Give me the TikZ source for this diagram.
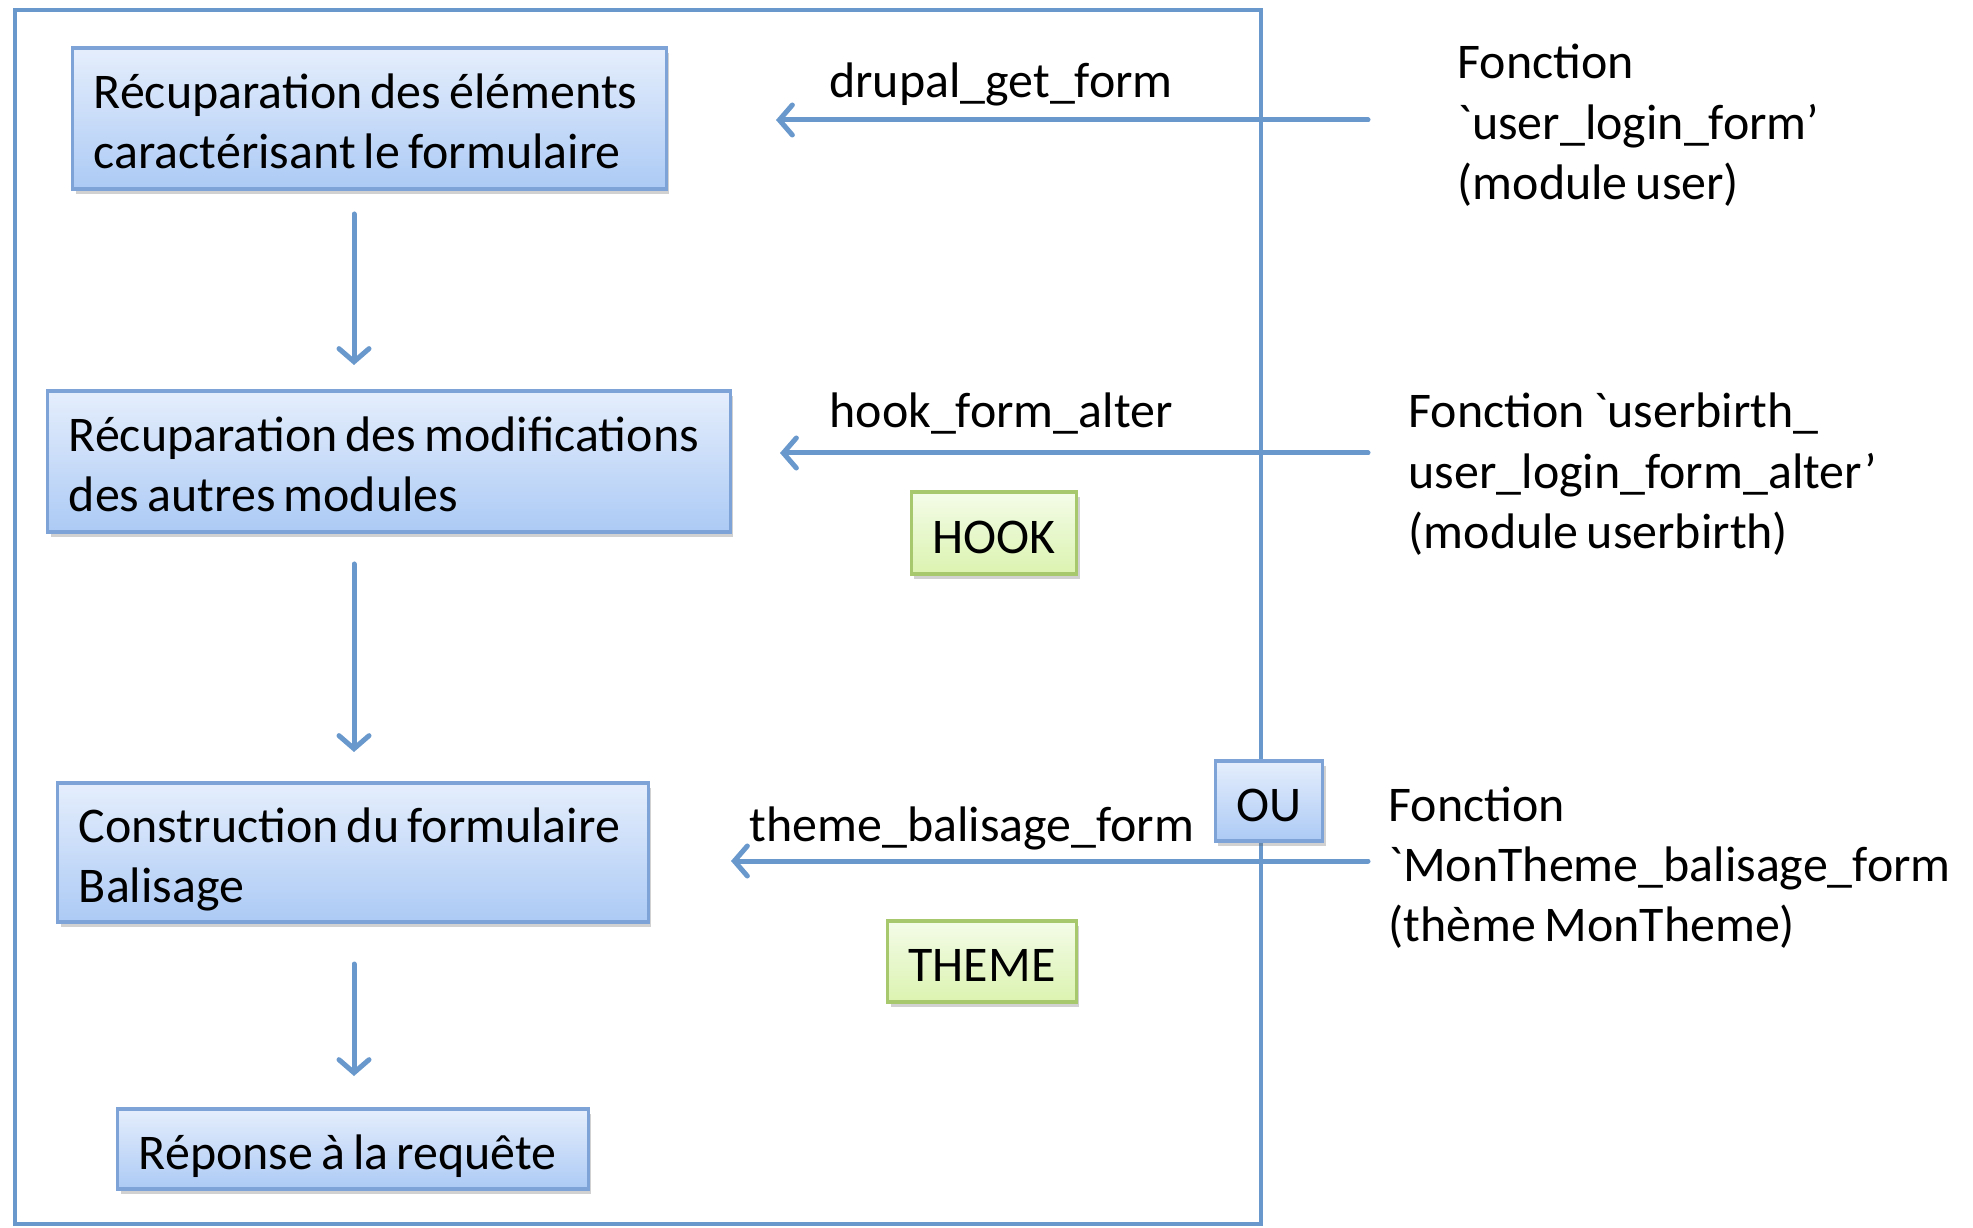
\documentclass[tikz,border=0pt]{standalone}
\usepackage{fontspec}
\newfontfamily\carl{Carlito}[WordSpace=0.72]
\usetikzlibrary{arrows.meta,shadows}
\definecolor{lineblue}{RGB}{104,152,204}
\definecolor{bluetop}{RGB}{229,238,252}
\definecolor{bluebot}{RGB}{172,202,245}
\definecolor{blueedge}{RGB}{125,163,215}
\definecolor{greentop}{RGB}{244,252,232}
\definecolor{greenbot}{RGB}{219,243,176}
\definecolor{greenedge}{RGB}{168,200,110}
\tikzset{
  txt/.style={font=\carl\fontsize{14.2}{17.07}\selectfont, inner sep=0pt},
  boxbase/.style={txt, draw, line width=0.9pt, inner xsep=0.21cm,
    drop shadow={shadow xshift=0.03cm, shadow yshift=-0.05cm, opacity=0.3, fill=black!60}},
  bluebox/.style={boxbase, draw=blueedge, top color=bluetop, bottom color=bluebot},
  greenbox/.style={boxbase, draw=greenedge, top color=greentop, bottom color=greenbot},
  shortbox/.style={text height=0.40cm, text depth=0pt},
  longbox/.style={align=flush left, text height=0.45cm, text depth=0.65cm},
  conn/.style={draw=lineblue, line width=0.05cm, line cap=round,
    -{Straight Barb[length=0.13cm,width=0.3cm,line cap=round]}},
  framestyle/.style={draw=lineblue, line width=0.04cm},
  rtext/.style={txt, text width=7cm, align=flush left, anchor=base west}
}
\begin{document}
\begin{tikzpicture}[x=0.01cm,y=-0.01cm]
\useasboundingbox (0,0) rectangle (1973,1228);
% frame
\draw[framestyle] (15,10) rectangle (1261,1224);
% free ends
\coordinate (h1s) at (1368,120); \coordinate (h1e) at (776,120);
\coordinate (h2s) at (1368,453); \coordinate (h2e) at (780,453);
\coordinate (h3s) at (1368,861); \coordinate (h3e) at (731,861);
\coordinate (v1s) at (354,214); \coordinate (v1e) at (354,365);
\coordinate (v2s) at (354,564); \coordinate (v2e) at (354,752);
\coordinate (v3s) at (354,964); \coordinate (v3e) at (354,1076);
% horizontal arrows
\draw[conn] (h1s) -- (h1e);
\draw[conn] (h2s) -- (h2e);
\draw[conn] (h3s) -- (h3e);
\draw[framestyle] (1261,10) -- (1261,1224);
% vertical arrows
\draw[conn] (v1s) -- (v1e);
\draw[conn] (v2s) -- (v2e);
\draw[conn] (v3s) -- (v3e);
% boxes
\node[bluebox, longbox, minimum width=5.93cm, minimum height=1.41cm, text width=5.51cm] (b1) at (369.5,118.5)
  {Récuparation des éléments\\caractérisant le formulaire};
\node[bluebox, longbox, minimum width=6.82cm, minimum height=1.41cm, text width=6.40cm] (b2) at (389,461.5)
  {Récuparation des modifications\\des autres modules};
\node[bluebox, longbox, minimum width=5.90cm, minimum height=1.39cm, text width=5.48cm] (b3) at (353,852.5)
  {Construction du formulaire\\Balisage};
\node[bluebox, shortbox, align=flush left, minimum width=4.70cm, minimum height=0.80cm, text width=4.28cm] (b4) at (353,1149)
  {Réponse à la requête};
\node[greenbox, shortbox, minimum width=1.64cm, minimum height=0.82cm] (hook) at (994,533) {HOOK};
\node[greenbox, shortbox, minimum width=1.88cm, minimum height=0.81cm] (theme) at (982,961.5) {THEME};
\node[bluebox, shortbox, minimum width=1.04cm, minimum height=0.80cm] (ou) at (1269,801) {OU};
% arrow labels
\node[txt, anchor=base] (l1) at (1001,98) {drupal\_get\_form};
\node[txt, anchor=base] (l2) at (1001,428) {hook\_form\_alter};
\node[txt, anchor=base] (l3) at (972,841) {theme\_balisage\_form};
% right texts
\node[rtext] (f1) at (1457,79) {Fonction\\`user\_login\_form’\\(module user)};
\node[rtext] (f2) at (1408,428) {Fonction `userbirth\_\\user\_login\_form\_alter’\\(module userbirth)};
\node[rtext] (f3) at (1388,821) {Fonction\\`MonTheme\_balisage\_form\\(thème MonTheme)};
\end{tikzpicture}
\end{document}
